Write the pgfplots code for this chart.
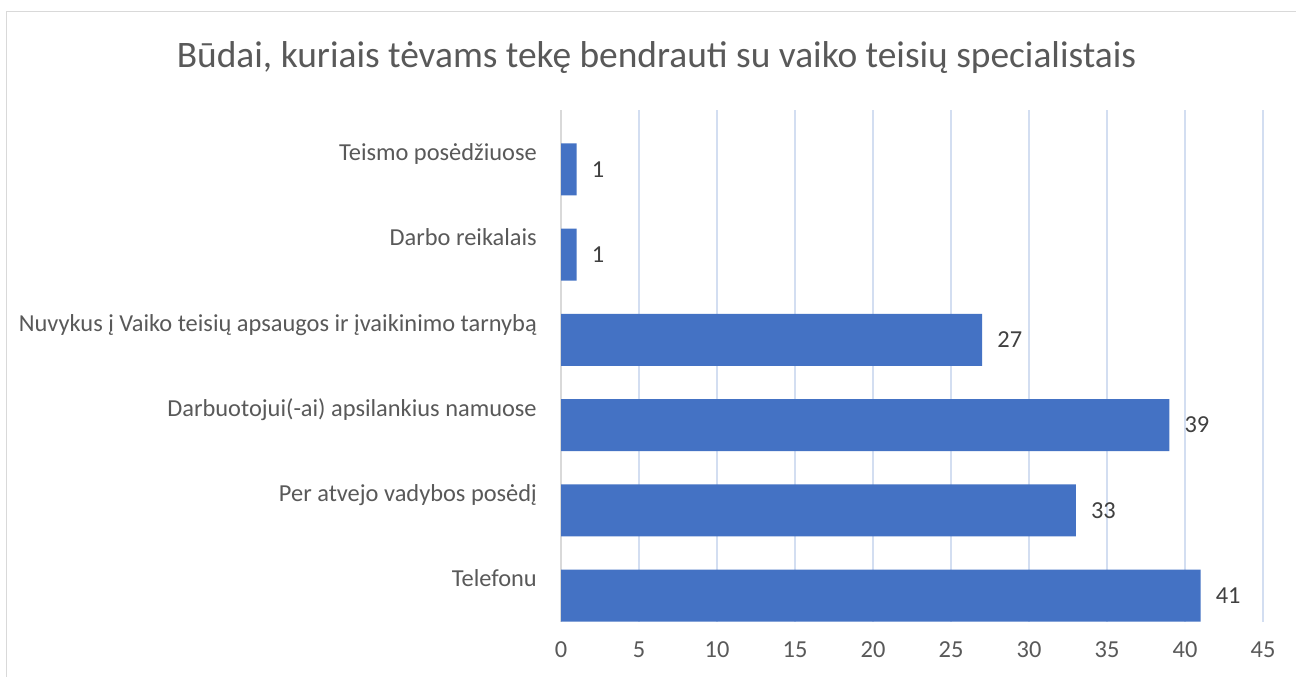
\documentclass[border=0pt]{standalone}
\usepackage{fontspec}
\setmainfont{Carlito}
\usepackage{pgfplots}
\pgfplotsset{compat=1.18}
\definecolor{barblue}{HTML}{4472C4}
\definecolor{txt}{HTML}{595959}
\definecolor{lbl}{HTML}{404040}
\definecolor{gridc}{HTML}{D3DEF1}
\definecolor{framec}{HTML}{D9D9D9}
\begin{document}
\begin{tikzpicture}
\path[use as bounding box, fill=white] (0bp,0bp) rectangle (1296bp,677bp);
\draw[framec, line width=1.3bp] (6.5bp,0bp) -- (6.5bp,665.5bp) -- (1296bp,665.5bp);
\node[anchor=base, text=txt, inner sep=0pt, font=\fontsize{37.4bp}{44bp}\selectfont] at (656.5bp,609bp) {Būdai, kuriais tėvams tekę bendrauti su vaiko teisių specialistais};
\begin{axis}[
  at={(561bp,55.3bp)}, anchor=south west, scale only axis,
  width=702bp, height=511.7bp,
  xbar, bar width=0.61, bar shift=0pt,
  xmin=0, xmax=45, ymin=-0.5, ymax=5.5,
  xtick={0,5,...,45}, ytick={0,...,5},
  yticklabels={Telefonu, Per atvejo vadybos posėdį\hspace{9bp}, Darbuotojui(-ai) apsilankius namuose, Nuvykus į Vaiko teisių apsaugos ir įvaikinimo tarnybą, Darbo reikalais, Teismo posėdžiuose},
  axis x line*=bottom, axis y line*=left,
  x axis line style={draw=none},
  y axis line style={draw=framec, line width=1.5bp},
  major tick length=0pt,
  xmajorgrids, grid style={draw=gridc, line width=1.3bp},
  /pgf/number format/assume math mode=true,
  tick label style={text=txt, font=\fontsize{24.4bp}{29bp}\selectfont, inner sep=0pt},
  xticklabel style={anchor=north, yshift=-20bp},
  yticklabel style={anchor=base east, xshift=-24bp, yshift=-7.8bp},
  nodes near coords,
  every node near coord/.append style={anchor=west, inner sep=0pt, xshift=15bp, text=lbl, font=\fontsize{24.4bp}{29bp}\selectfont},
  clip=false,
]
\addplot[fill=barblue, draw=none] coordinates {
  (41,-0.195) (33,0.805) (39,1.805) (27,2.805) (1,3.805) (1,4.805)
};
\end{axis}
\end{tikzpicture}
\end{document}
